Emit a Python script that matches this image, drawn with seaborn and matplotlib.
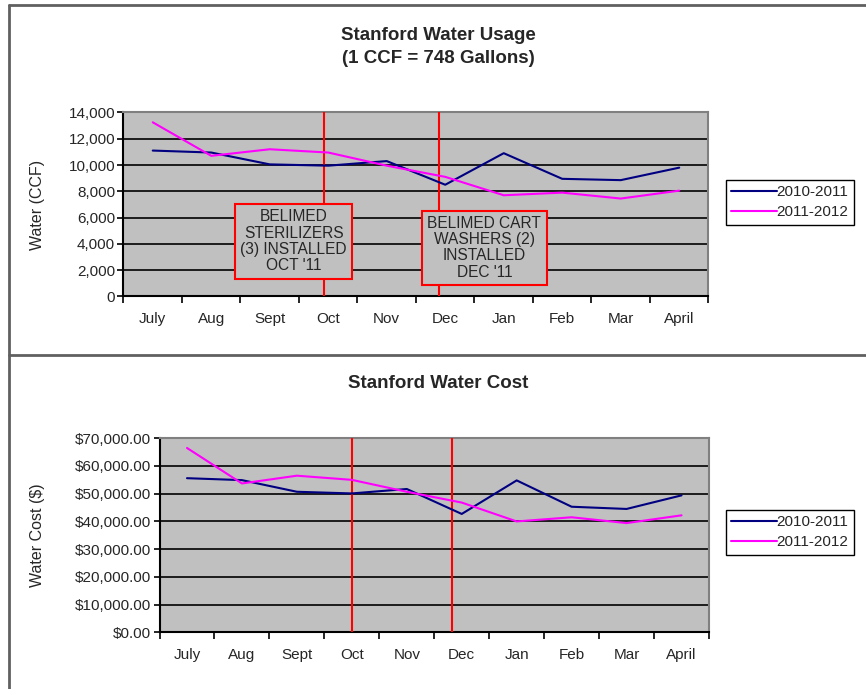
import pandas as pd
import numpy as np
import matplotlib
matplotlib.use("Agg")
import matplotlib.pyplot as plt
import seaborn as sns
from matplotlib.lines import Line2D
from matplotlib.ticker import FuncFormatter, MultipleLocator, FixedLocator

months = ['July', 'Aug', 'Sept', 'Oct', 'Nov', 'Dec', 'Jan', 'Feb', 'Mar', 'April']
years = ['2010-2011', '2011-2012']

usage_2010 = [11100, 10950, 10050, 9950, 10300, 8500, 10900, 8950, 8850, 9800]
usage_2011 = [13250, 10700, 11200, 10950, 9950, 9100, 7700, 7900, 7450, 8050]

cost_2010 = [55600, 54900, 50700, 50100, 51700, 42700, 54800, 45300, 44500, 49400]
cost_2011 = [66500, 53700, 56500, 55000, 50700, 46800, 40000, 41500, 39400, 42200]

# where the install markers sit (in month positions)
usage_events = [2.92, 4.9]
cost_events = [3.0, 4.83]
notes = ["BELIMED\nSTERILIZERS\n(3) INSTALLED\nOCT '11",
         "BELIMED CART\nWASHERS (2)\nINSTALLED\nDEC '11"]
note_pos = [(2.41, 4200), (5.67, 3700)]

palette = {'2010-2011': '#000080', '2011-2012': '#FF00FF'}

sns.set_style('white')
plt.rcParams['font.family'] = ['Liberation Sans', 'DejaVu Sans']


def long_df(a, b):
    return pd.DataFrame({'month': months * 2,
                         'value': a + b,
                         'year': [years[0]] * len(a) + [years[1]] * len(b)})


def style_axes(ax, ymax, step, fmt, ylabel, label_x):
    ax.set_facecolor('#C0C0C0')
    ax.set_xlim(-0.5, len(months) - 0.5)
    ax.set_ylim(0, ymax)
    ax.yaxis.set_major_locator(MultipleLocator(step))
    ax.yaxis.set_major_formatter(FuncFormatter(fmt))
    ax.grid(axis='y', color='black', lw=1.2, zorder=1)
    ax.set_axisbelow(True)
    for s in ['left', 'bottom']:
        ax.spines[s].set_color('black')
        ax.spines[s].set_linewidth(1.5)
    for s in ['top', 'right']:
        ax.spines[s].set_color('#808080')
        ax.spines[s].set_linewidth(1.5)
    ax.xaxis.set_major_locator(FixedLocator(range(len(months))))
    ax.set_xticklabels(months)
    ax.xaxis.set_minor_locator(FixedLocator(np.arange(-0.5, len(months), 1.0)))
    ax.tick_params(axis='x', which='major', length=0, pad=11, labelsize=11)
    ax.tick_params(axis='x', which='minor', length=5, width=1.2, direction='out',
                   bottom=True, color='black')
    ax.tick_params(axis='y', length=4, width=1.2, direction='out', left=True,
                   color='black', labelsize=11, pad=2)
    ax.set_xlabel('')
    ax.set_ylabel(ylabel, fontsize=11.5)
    ax.yaxis.set_label_coords(label_x, 0.5)
    ax.yaxis.label.set_transform(matplotlib.transforms.blended_transform_factory(
        fig.transFigure, ax.transAxes))


fig = plt.figure(figsize=(8.66, 6.89), dpi=100)
ax1 = fig.add_axes([0.1426, 0.5697, 0.6755, 0.2671])
ax2 = fig.add_axes([0.1842, 0.0823, 0.6345, 0.2816])

sns.lineplot(data=long_df(usage_2010, usage_2011), x='month', y='value', hue='year',
             palette=palette, sort=False, lw=1.5, ax=ax1, zorder=4)
sns.lineplot(data=long_df(cost_2010, cost_2011), x='month', y='value', hue='year',
             palette=palette, sort=False, lw=1.5, ax=ax2, zorder=4)

style_axes(ax1, 14000, 2000, lambda v, p: f'{v:,.0f}', 'Water (CCF)', 45 / 866)
style_axes(ax2, 70000, 10000, lambda v, p: f'${v:,.2f}', 'Water Cost ($)', 45 / 866)

for x in usage_events:
    ax1.axvline(x, color='red', lw=1.5, zorder=3)
for x in cost_events:
    ax2.axvline(x, color='red', lw=1.5, zorder=3)

for txt, (x, y) in zip(notes, note_pos):
    ax1.text(x, y, txt, ha='center', va='center', fontsize=11.2, linespacing=1.1,
             zorder=5,
             bbox=dict(boxstyle='square,pad=0.35', fc='#C0C0C0', ec='red', lw=1.5))

for ax, top in [(ax1, 180), (ax2, 510)]:
    handles, labels = ax.get_legend_handles_labels()
    ax.get_legend().remove()
    fig.legend(handles, labels, loc='upper left',
               bbox_to_anchor=(725.5 / 866, 1 - top / 689),
               fontsize=11, frameon=True, fancybox=False, edgecolor='black',
               framealpha=1, borderpad=0.35, handlelength=3.0, handletextpad=0.0,
               labelspacing=0.4, borderaxespad=0, handleheight=0.6)

fig.text(438 / 866, 1 - 47 / 689, 'Stanford Water Usage\n(1 CCF = 748 Gallons)',
         ha='center', va='center', fontsize=13.5, fontweight='bold', linespacing=1.5)
fig.text(438 / 866, 1 - 384 / 689, 'Stanford Water Cost',
         ha='center', va='center', fontsize=13.5, fontweight='bold')

# page frame lines
W, H = 866, 689
frame = dict(color='#606060', lw=2, transform=fig.transFigure)
fig.add_artist(Line2D([8.5 / W, 1], [1 - 5 / H, 1 - 5 / H], **frame))
fig.add_artist(Line2D([8.5 / W, 8.5 / W], [0, 1 - 5 / H], **frame))
fig.add_artist(Line2D([8.5 / W, 1], [1 - 355 / H, 1 - 355 / H], **frame))

fig.savefig('out.png', dpi=100)
